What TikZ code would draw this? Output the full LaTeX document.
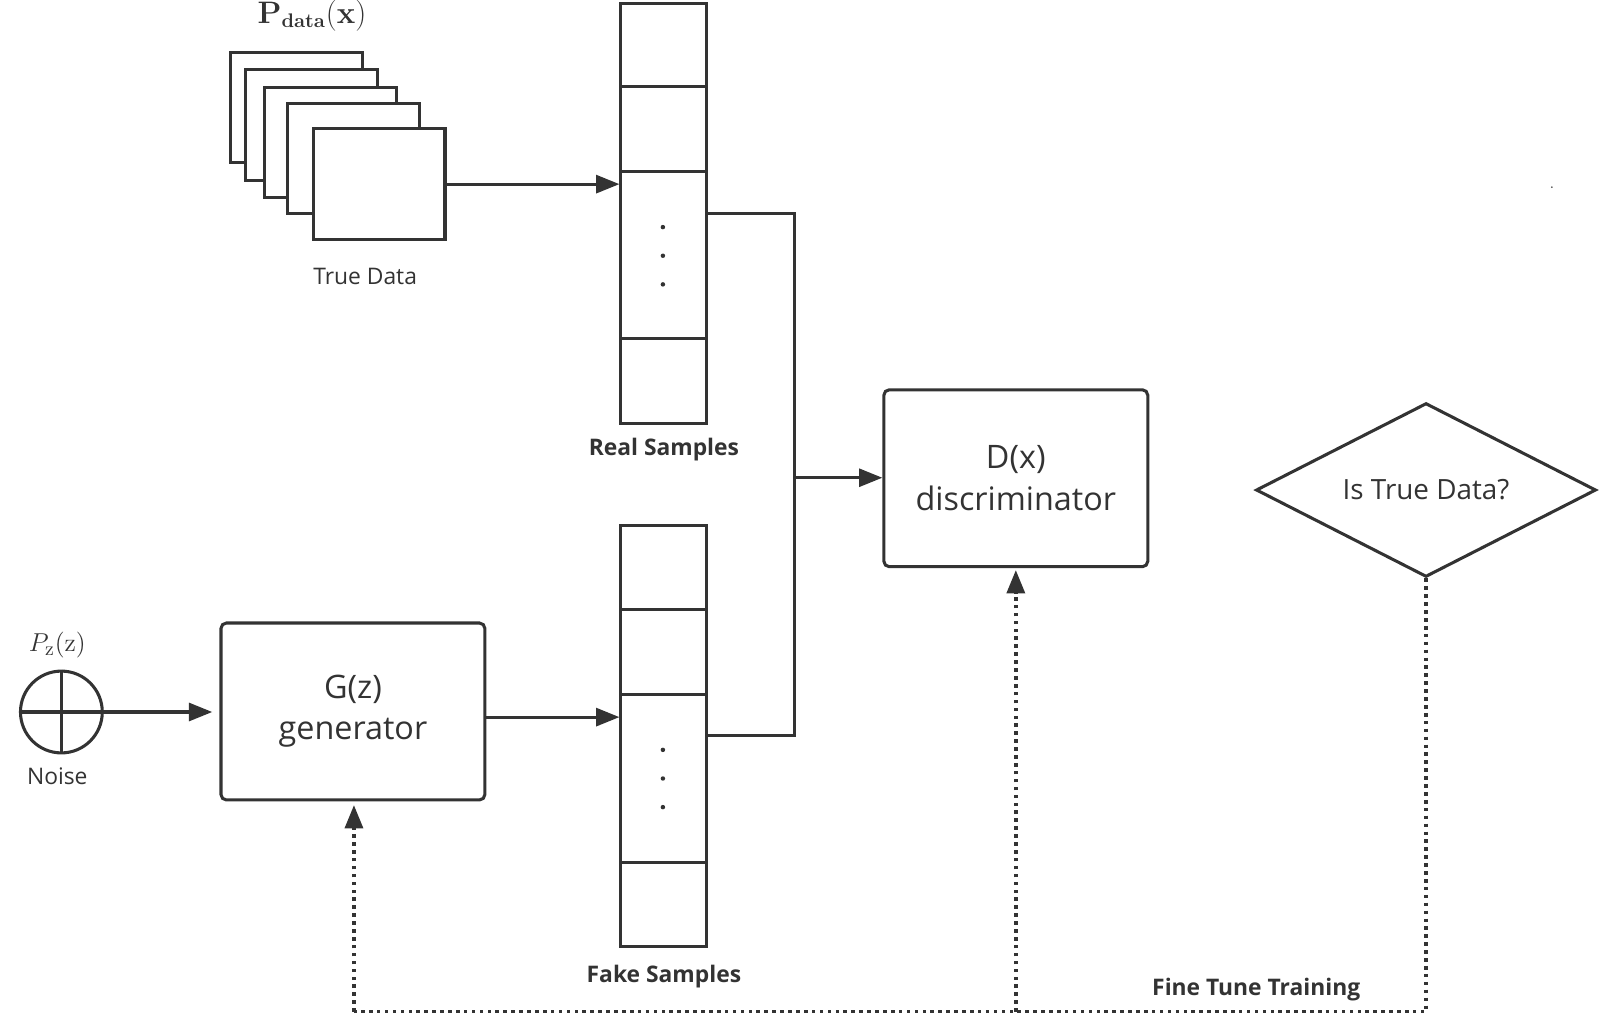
\documentclass[tikz,border=0pt]{standalone}
\usepackage[no-math]{fontspec}
\setmainfont{Open Sans}
\usetikzlibrary{arrows.meta,shapes.geometric}
\definecolor{lc}{HTML}{333333}
\begin{document}
\begin{tikzpicture}[x=0.02cm,y=-0.02cm,
  ln/.style={draw=lc,line width=1.7pt},
  arr/.style={ln,-{Triangle[length=13pt,width=10pt]}},
  dotln/.style={draw=lc,line width=2pt,dash pattern=on 2pt off 2.4pt},
  darr/.style={dotln,-{Triangle[length=13pt,width=10pt]}},
  page/.style={ln,fill=white,rectangle,minimum width=2.58cm,minimum height=2.16cm,inner sep=0pt},
  col/.style={ln,rectangle,minimum width=1.68cm,minimum height=8.22cm,inner sep=0pt},
  bigbox/.style={ln,rectangle,rounded corners=3pt,minimum width=5.16cm,minimum height=3.46cm,align=center,text=lc,font=\fontsize{18}{23}\selectfont},
  lbl/.style={text=lc,inner sep=0pt,font=\fontsize{12.7}{15}\selectfont},
  blbl/.style={text=lc,inner sep=0pt,font=\fontsize{12.7}{15}\selectfont\bfseries},
  dotm/.style={fill=lc,circle,inner sep=0pt,minimum size=2.5pt}
]
\useasboundingbox (0,0) rectangle (1566,990);

% P_data(x) and stacked pages
\node[text=lc,inner sep=0pt,font=\fontsize{16}{18}\selectfont] (pdata) at (305,15) {$\mathbf{P}_{\mathbf{data}}(\mathbf{x})$};
\node[page] (p1) at (289.5,105) {};
\node[page] (p2) at (304.5,122) {};
\node[page] (p3) at (323.5,139.5) {};
\node[page] (p4) at (345.5,155) {};
\node[page] (p5) at (370.5,180) {};
\node[lbl] (truedata) at (357,270) {True Data};

% Real samples column
\node[col] (realcol) at (649,208.5) {};
\draw[ln] (607,85) -- (691,85);
\draw[ln] (607,168) -- (691,168);
\draw[ln] (607,331) -- (691,331);
\node[dotm] (rd1) at (648,222) {};
\node[dotm] (rd2) at (648,250) {};
\node[dotm] (rd3) at (648,278) {};
\node[blbl] (reallbl) at (649,439) {Real Samples};

% Fake samples column
\node[col] (fakecol) at (649,719.5) {};
\draw[ln] (607,596) -- (691,596);
\draw[ln] (607,679) -- (691,679);
\draw[ln] (607,843) -- (691,843);
\node[dotm] (fd1) at (648,733) {};
\node[dotm] (fd2) at (648,761) {};
\node[dotm] (fd3) at (648,789) {};
\node[blbl] (fakelbl) at (649,955) {Fake Samples};

% Discriminator
\node[bigbox] (D) at (993,467.5) {D(x)\\discriminator};

% Diamond
\node[ln,diamond,aspect=2,minimum width=6.65cm,minimum height=3.4cm,inner sep=0pt,text=lc,font=\fontsize{15.5}{18}\selectfont] (dia) at (1394,479) {Is True Data?};

% Generator
\node[bigbox] (G) at (345,695.5) {G(z)\\generator};

% Noise
\node[ln,circle,minimum size=1.6cm,inner sep=0pt] (noise) at (60,696) {};
\draw[ln] (noise.north) -- (noise.south);
\draw[ln] (noise.west) -- (noise.east);
\node[text=lc,inner sep=0pt,font=\fontsize{15}{18}\selectfont] (pz) at (56,631) {$P_{\mathrm{z}}(\mathrm{z})$};
\node[lbl] (noiselbl) at (56,759) {Noise};

% stray speck
\node[fill=lc,circle,inner sep=0pt,minimum size=1pt] (speck) at (1517,183) {};

% Connectors
\draw[arr] (p5.east) -- (realcol.west |- p5.east);
\coordinate (merge) at (777,467);
\draw[ln] (realcol.east |- 0,209) -- (777,209) -- (777,719) -- (fakecol.east |- 0,719);
\draw[arr] (merge) -- (D.west |- merge);
\draw[arr] (noise.east) -- ([xshift=-4pt]G.west |- noise.east);
\draw[arr] (G.east |- 0,701) -- (fakecol.west |- 0,701);

% Dotted feedback
\coordinate (br) at (1394,989);
\coordinate (bm) at (993,989);
\coordinate (bl) at (346,989);
\draw[dotln] (dia.south) -- (br) -- (bl);
\draw[darr] (bl) -- ([yshift=-2pt]G.south -| bl);
\draw[darr] (bm) -- ([yshift=-1pt]D.south -| bm);
\node[blbl] (ftt) at (1228,967) {Fine Tune Training};
\end{tikzpicture}
\end{document}
